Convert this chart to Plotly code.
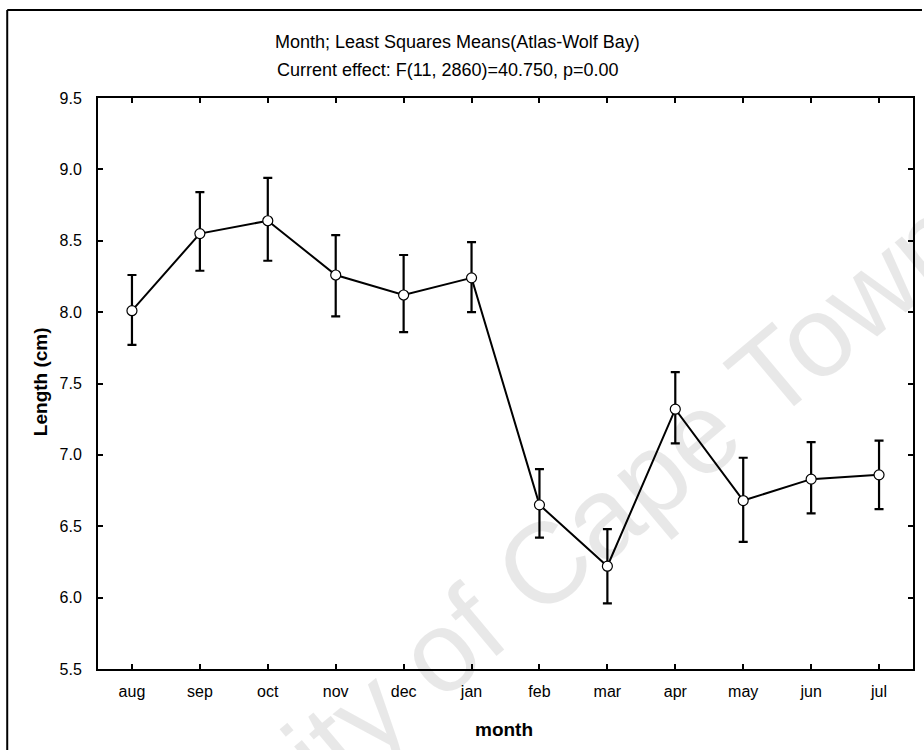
import plotly.graph_objects as go

months = ["aug", "sep", "oct", "nov", "dec", "jan", "feb", "mar", "apr", "may", "jun", "jul"]
means = [8.01, 8.55, 8.64, 8.26, 8.12, 8.24, 6.65, 6.22, 7.32, 6.68, 6.83, 6.86]
upper = [8.26, 8.84, 8.94, 8.54, 8.40, 8.49, 6.90, 6.48, 7.58, 6.98, 7.09, 7.10]
lower = [7.77, 8.29, 8.36, 7.97, 7.86, 8.00, 6.42, 5.96, 7.08, 6.39, 6.59, 6.62]
y_ticks = [5.5, 6.0, 6.5, 7.0, 7.5, 8.0, 8.5, 9.0, 9.5]

err_plus = [u - m for u, m in zip(upper, means)]
err_minus = [m - l for m, l in zip(means, lower)]

FONT = "Liberation Sans Narrow, Arial Narrow, Liberation Sans, Arial, sans-serif"
BOLD = "Liberation Sans, Arial, sans-serif"

fig = go.Figure()
fig.add_trace(go.Scatter(
    x=months, y=means, mode="lines+markers",
    line=dict(color="black", width=2),
    marker=dict(symbol="circle", size=10, color="white", line=dict(color="black", width=1.2)),
    error_y=dict(type="data", symmetric=False, array=err_plus, arrayminus=err_minus,
                 color="black", thickness=2.2, width=4.5),
    showlegend=False,
))

L, R, T, B = 98, 9, 98, 81
W, H = 924, 750
pw, ph = W - L - R, H - T - B

def px(x):
    return (x - L) / pw

def py(y):
    return (H - B - y) / ph

fig.update_layout(
    width=W, height=H,
    margin=dict(l=L, r=R, t=T, b=B),
    paper_bgcolor="white", plot_bgcolor="white",
    font=dict(family=FONT, size=16, color="black"),
    xaxis=dict(
        type="category", range=[-0.5, 11.5],
        showline=True, linecolor="black", linewidth=2, mirror="ticks",
        ticks="inside", ticklen=5, tickwidth=1.5, tickcolor="black",
        showgrid=False, zeroline=False,
        tickfont=dict(family=FONT, size=16),
        ticklabelstandoff=7,
    ),
    yaxis=dict(
        range=[5.5, 9.5], tickvals=y_ticks, tickformat=".1f",
        showline=True, linecolor="black", linewidth=2, mirror="ticks",
        ticks="inside", ticklen=5, tickwidth=1.5, tickcolor="black",
        showgrid=False, zeroline=False,
        tickfont=dict(family=FONT, size=16),
        ticklabelstandoff=11,
    ),
    annotations=[
        dict(text="Month; Least Squares Means(Atlas-Wolf Bay)", x=px(458), y=py(42),
             xref="paper", yref="paper", showarrow=False, xanchor="center", yanchor="middle",
             font=dict(family=FONT, size=18)),
        dict(text="Current effect: F(11, 2860)=40.750, p=0.00", x=px(449), y=py(70),
             xref="paper", yref="paper", showarrow=False, xanchor="center", yanchor="middle",
             font=dict(family=FONT, size=18)),
        dict(text="<b>month</b>", x=px(505), y=py(729),
             xref="paper", yref="paper", showarrow=False, xanchor="center", yanchor="middle",
             font=dict(family=BOLD, size=19)),
        dict(text="<b>Length (cm)</b>", x=px(40), y=py(382),
             xref="paper", yref="paper", showarrow=False, xanchor="center", yanchor="middle",
             textangle=-90, font=dict(family=BOLD, size=19)),
        dict(text="University of Cape Town", x=px(478), y=py(620),
             xref="paper", yref="paper", showarrow=False, xanchor="center", yanchor="middle",
             textangle=-40, font=dict(family=BOLD, size=115, color="rgba(0,0,0,0.09)")),
    ],
    shapes=[
        dict(type="line", xref="paper", yref="paper", x0=px(7), x1=px(7), y0=py(10), y1=py(750),
             line=dict(color="black", width=2)),
        dict(type="line", xref="paper", yref="paper", x0=px(7), x1=px(924), y0=py(10), y1=py(10),
             line=dict(color="black", width=2)),
    ],
)

fig.write_html("out.html",
               config={"displayModeBar": False},
               post_script="document.body.style.margin='0';document.body.style.overflow='hidden';")
